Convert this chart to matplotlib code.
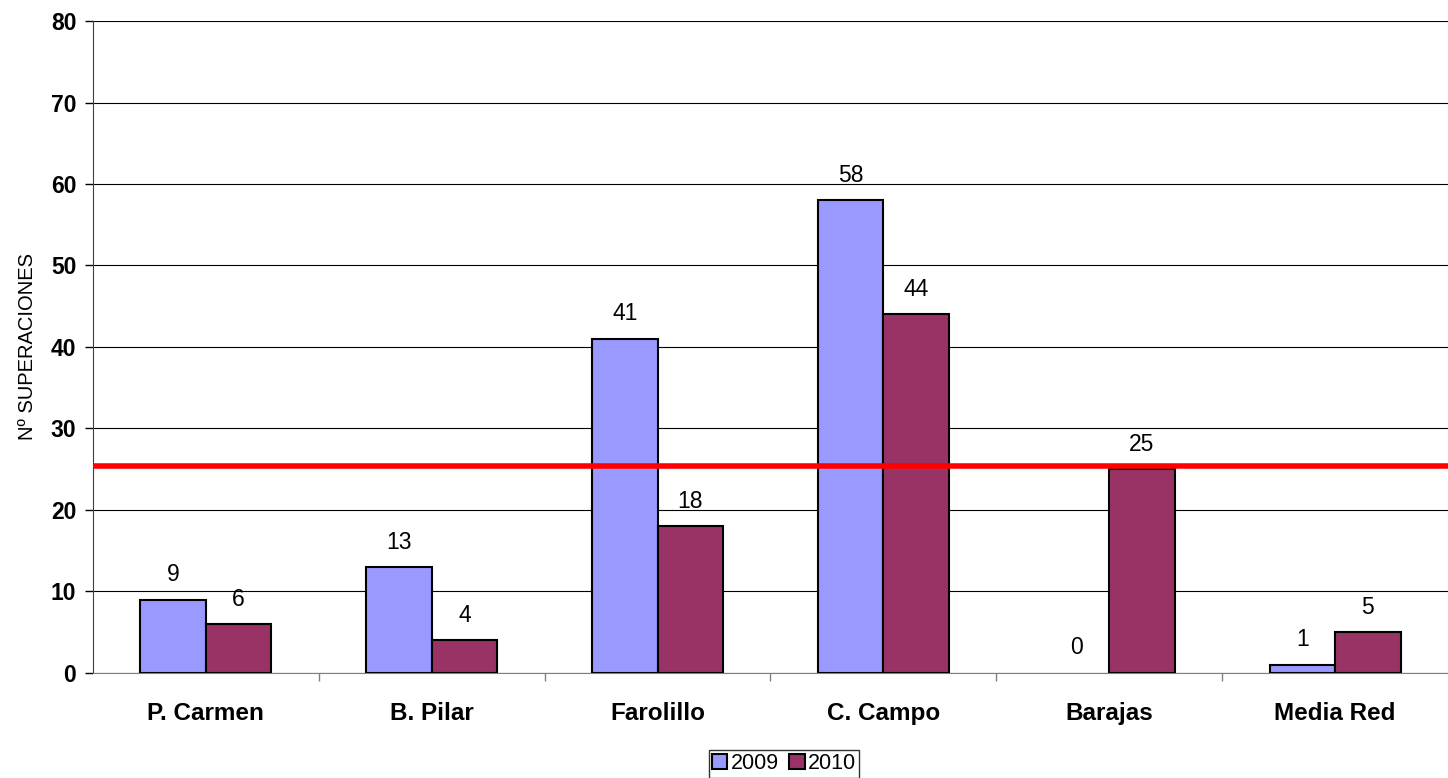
import matplotlib
matplotlib.use("Agg")
import matplotlib.pyplot as plt
import numpy as np

plt.rcParams['font.family'] = ['Liberation Sans', 'DejaVu Sans']

estaciones = ["P. Carmen", "B. Pilar", "Farolillo", "C. Campo", "Barajas", "Media Red"]
sup_2009 = [9, 13, 41, 58, 0, 1]
sup_2010 = [6, 4, 18, 44, 25, 5]
limite = 25.4

fig = plt.figure(figsize=(14.48, 7.78), dpi=100)
ax = fig.add_axes([0.0642, 0.135, 0.9358, 0.838])

x = np.arange(len(estaciones))
w = 0.29
b1 = ax.bar(x - w/2, sup_2009, w, color="#9999ff", edgecolor="black", linewidth=1.5, label="2009", zorder=3)
b2 = ax.bar(x + w/2, sup_2010, w, color="#993366", edgecolor="black", linewidth=1.5, label="2010", zorder=3)

for bars, vals in ((b1, sup_2009), (b2, sup_2010)):
    for r, v in zip(bars, vals):
        if v == 0:
            r.set_visible(False)  # no dibujar barras vacias
        ax.annotate(str(v), (r.get_x() + r.get_width()/2, v), xytext=(0, 18),
                    textcoords="offset points", ha="center", va="center", fontsize=16.5)

ax.axhline(limite, color="#ff0000", linewidth=4, zorder=4)

ax.set_ylim(0, 80)
ax.set_xlim(-0.5, len(estaciones) - 0.5)
ax.set_yticks(range(0, 81, 10))
ax.yaxis.grid(True, color="black", linewidth=0.8, zorder=0)
ax.set_axisbelow(True)
for lbl in ax.get_yticklabels():
    lbl.set_fontweight("bold")
ax.tick_params(axis="y", labelsize=16.5, length=6, width=1, pad=6)

ax.set_xticks(x)
ax.set_xticklabels(estaciones, fontsize=17.5, fontweight="bold")
ax.tick_params(axis="x", length=0, pad=21)
ax.set_xticks(np.arange(0.5, len(estaciones) - 0.5, 1), minor=True)
ax.tick_params(axis="x", which="minor", length=6, width=1, color="#808080")

for s in ("top", "right"):
    ax.spines[s].set_visible(False)
ax.spines["left"].set_color("#404040")
ax.spines["bottom"].set_color("#808080")

ax.set_ylabel("Nº SUPERACIONES", fontsize=14.5, labelpad=10)

leg = fig.legend(handles=[b1, b2], loc="center", bbox_to_anchor=(0.5415, 0.018),
                 ncol=2, fontsize=15.5, frameon=True, fancybox=False, edgecolor="black",
                 handlelength=0.7, handleheight=0.7, handletextpad=0.15, columnspacing=0.5,
                 borderpad=0.15, borderaxespad=0)
leg.get_frame().set_linewidth(1)

fig.savefig("out.png", dpi=100)
